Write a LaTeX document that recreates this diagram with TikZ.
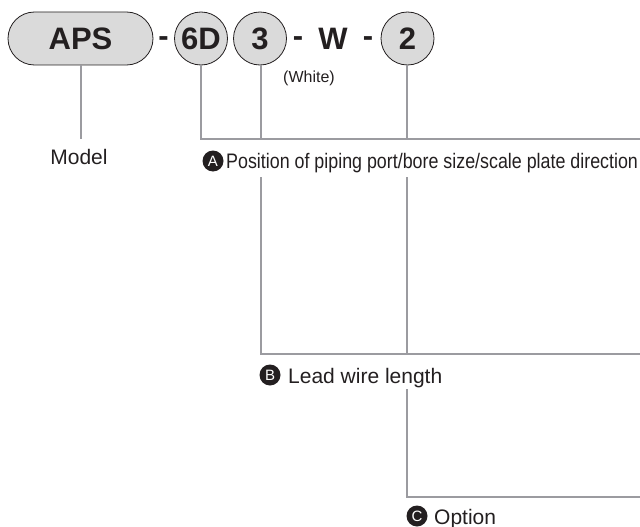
\documentclass[tikz,border=0pt]{standalone}
\usepackage{fontspec}
\usepackage{graphicx}
\setmainfont{Liberation Sans}
\definecolor{partfill}{RGB}{218,218,218}
\definecolor{linegray}{RGB}{155,155,160}
\definecolor{ink}{RGB}{35,31,32}
\begin{document}
\begin{tikzpicture}[x=1pt,y=-1pt,
  conn/.style={draw=linegray, line width=1.8pt},
  partbox/.style={draw=ink, line width=0.8pt, fill=partfill, inner sep=0pt, text=ink,
    font=\fontsize{31}{31}\selectfont\bfseries},
  partcirc/.style={partbox, circle, minimum size=53pt},
  bigtxt/.style={anchor=base, inner sep=0pt, text=ink, font=\fontsize{31}{31}\selectfont\bfseries},
  letter/.style={circle, fill=ink, text=white, minimum size=21pt, inner sep=0pt,
    font=\fontsize{15}{15}\selectfont},
  lab/.style={anchor=base west, inner sep=0pt, text=ink, font=\fontsize{21}{21}\selectfont},
  ]
\useasboundingbox (0,0) rectangle (640,527);

% top row
\node[partbox, rounded corners=26.5pt, minimum width=145pt, minimum height=53pt] (aps) at (80.5,38.5) {APS};
\node[bigtxt] (d1) at (163.5,46.7) {-};
\node[partcirc] (p6d) at (201,38.5) {6D};
\node[partcirc] (p3) at (260,38.5) {3};
\node[bigtxt] (d2) at (298,46.7) {-};
\node[bigtxt] (w) at (333,50) {W};
\node[bigtxt] (d3) at (368,46.7) {-};
\node[partcirc] (p2) at (407.5,38.5) {2};
\node[anchor=base, inner sep=0pt, text=ink, font=\fontsize{16}{16}\selectfont] (white) at (309,83) {(White)};

% labels
\node[lab, anchor=base] (model) at (79,164) {Model};
\node[letter] (ca) at (213,161) {A};
\node[lab] (laba) at (226,168) {\scalebox{0.85}[1]{Position of piping port/bore size/scale plate direction}};
\node[letter] (cb) at (270,375) {B};
\node[lab] (labb) at (288,383) {Lead wire length};
\node[letter] (cc) at (417,516) {C};
\node[lab] (labc) at (434,524) {Option};

% corner coordinates at right edge
\coordinate (ra) at (640,139);
\coordinate (rb) at (640,354);
\coordinate (rc) at (640,497);

% connectors
\draw[conn, shorten >=10pt] (aps.south -| 81,0) -- (81,0 |- model.north);
\draw[conn] (p6d.south) |- (ra);
\draw[conn] (p3.south -| 261,0) -- (261,0 |- ra);
\draw[conn] (p2.south -| 407,0) -- (407,0 |- ra);

\draw[conn, shorten <=4.6pt] (261,0 |- laba.south) |- (rb);
\draw[conn, shorten <=4.6pt] (407,0 |- laba.south) -- (407,0 |- rb);

\draw[conn, shorten <=1.6pt] (407,0 |- labb.south) |- (rc);
\end{tikzpicture}
\end{document}
